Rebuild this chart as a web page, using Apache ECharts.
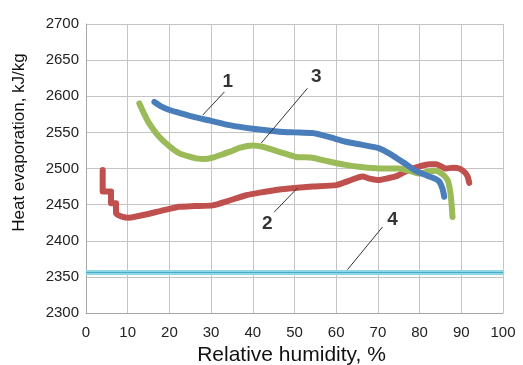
<!DOCTYPE html>
<html>
<head>
<meta charset="utf-8">
<script src="https://cdn.jsdelivr.net/npm/echarts@6/dist/echarts.min.js"></script>
<style>
html,body{margin:0;padding:0;background:#fff;}
#chart{width:523px;height:365px;}
</style>
</head>
<body>
<div id="chart"></div>
<script>
// Curve 1 (blue)
var curve1 = [[16.4,2592],[18,2586],[20,2581],[22.4,2577],[26,2571],[30,2566],[34.4,2560],[40,2555],[46.4,2551],[50,2550],[54.3,2549],[58,2544],[62.3,2537],[66,2533],[70.3,2528],[73,2520],[75.1,2512],[77,2505],[79,2497],[81,2492],[82.3,2489],[84,2485],[84.7,2482],[85.5,2472],[85.9,2461]];
// Curve 2 (red)
var curve2 = [[4,2498],[4,2468],[6,2468],[6,2452],[7.2,2452],[7.2,2438],[8.8,2433],[10.4,2432],[14,2436],[18.4,2442],[22.4,2447],[26,2448],[30.4,2449],[34,2455],[38.4,2463],[42,2467],[46.4,2471],[50,2473],[54.3,2475],[60,2477],[63,2483],[66.3,2489],[68,2486],[70.3,2484],[72,2486],[74.3,2489],[76,2494],[78.3,2500],[80,2503],[82.3,2506],[84,2506],[86.3,2500],[88,2501],[89.5,2500],[90.8,2495],[91.5,2489],[91.9,2480]];
// Curve 3 (green)
var curve3 = [[12.8,2590],[14,2575],[15.2,2562],[16.8,2549],[18.4,2539],[20.4,2529],[22.4,2521],[24.4,2517],[26.4,2514],[28.4,2513],[30.4,2515],[32.4,2519],[34.4,2523],[37,2529],[40,2532],[42.5,2530],[44.7,2526],[47.5,2521],[50.4,2516],[54.3,2515],[58,2510],[62.3,2505],[66,2502],[70.3,2500],[75.1,2500],[78,2496],[80,2493],[82,2496],[83.9,2497],[85.5,2492],[86.7,2484],[87.3,2470],[87.6,2455],[87.9,2433]];
// Curve 4 (cyan, constant)
var curve4 = [[0,2356],[100,2356]];

var xTicks = [0,10,20,30,40,50,60,70,80,90,100];
var yTicks = [2300,2350,2400,2450,2500,2550,2600,2650,2700];

// annotation labels (data coords) and leader lines
var annText = ['1','3','2','4'];
var annLabelAt = [[34.0,2620],[55.2,2627],[43.5,2424],[73.5,2429]];
var annLineFrom = [[33.2,2606],[53.1,2611],[45.2,2440],[71.1,2419]];
var annLineTo = [[28.0,2574],[42.0,2535],[50.7,2473],[62.7,2360]];

var chart = echarts.init(document.getElementById('chart'), null, {renderer:'canvas'});
var font = 'Liberation Sans, Arial, sans-serif';
function curveSeries(data, color, w){
  return {type:'line', data:data, showSymbol:false, symbol:'none', smooth:0.2,
    lineStyle:{color:color, width:w, cap:'round', join:'round'}, z:3, animation:false};
}
var option = {
  animation:false,
  backgroundColor:'#fff',
  grid:{left:86, right:20, top:24, bottom:52, containLabel:false, outerBoundsMode:'none'},
  xAxis:{type:'value', min:xTicks[0], max:xTicks[xTicks.length-1], interval:10,
    name:'Relative humidity, %', nameLocation:'middle', nameGap:32,
    nameTextStyle:{fontFamily:font, fontSize:21, color:'#111', padding:[0,6,0,0]},
    axisLine:{show:true, lineStyle:{color:'#a6a6a6'}}, axisTick:{show:false},
    axisLabel:{fontFamily:font, fontSize:15, color:'#222', margin:12,
      formatter:function(v){return String(v);}},
    splitLine:{show:true, lineStyle:{color:'#c4c4c4', width:1}}},
  yAxis:{type:'value', min:yTicks[0], max:yTicks[yTicks.length-1], interval:50,
    name:'Heat evaporation, kJ/kg', nameLocation:'middle', nameGap:58, nameRotate:90,
    nameTextStyle:{fontFamily:font, fontSize:17, color:'#111', padding:[0,0,0,52]},
    axisLine:{show:true, lineStyle:{color:'#a6a6a6'}}, axisTick:{show:false},
    axisLabel:{fontFamily:font, fontSize:15, color:'#222', margin:7,
      formatter:function(v){return String(v);}},
    splitLine:{show:true, lineStyle:{color:'#c4c4c4', width:1}}},
  series:[
    {type:'line', data:curve4, showSymbol:false, symbol:'none',
      lineStyle:{color:'#8fd6e6', width:5}, z:2},
    {type:'line', data:curve4, showSymbol:false, symbol:'none',
      lineStyle:{color:'#4bacc6', width:1}, z:2},
    curveSeries(curve2, '#c0504d', 6),
    curveSeries(curve3, '#9bbb59', 6),
    curveSeries(curve1, '#4a7ebb', 6),
    {type:'line', data:[], symbol:'none', z:4,
      markLine:{silent:true, symbol:['none','none'], animation:false,
        lineStyle:{color:'#333', width:1, type:'solid'}, label:{show:false},
        data: annLineFrom.map(function(p,i){return [{coord:p},{coord:annLineTo[i]}];})}},
    {type:'scatter', symbolSize:0, z:5,
      data: annLabelAt.map(function(p,i){return [p[0],p[1],annText[i]];}),
      label:{show:true, position:'inside', formatter:function(d){return d.value[2];},
        fontFamily:font, fontSize:19, fontWeight:'bold', color:'#000'}}
  ]
};
chart.setOption(option);
</script>
</body>
</html>
